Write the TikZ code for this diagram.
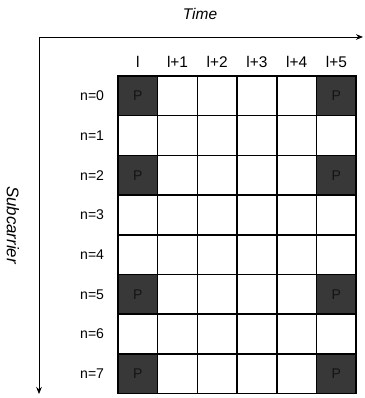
\documentclass[tikz,border=0pt]{standalone}
\usepackage{fontspec}
\setmainfont{Liberation Sans}
\usetikzlibrary{arrows.meta}

\begin{document}
\begin{tikzpicture}[x=0.025cm, y=-0.025cm, >={Stealth[length=5pt, width=4pt]},
    font=\fontsize{10}{12}\selectfont,
    cell/.style={draw, line width=1.1pt, fill=white, inner sep=0pt, minimum width=0.9925cm, minimum height=0.9925cm},
    pilot/.style={cell, fill=black!78, text=black!92},
    axis/.style={line width=0.6pt}]
    \useasboundingbox (0,0) rectangle (364,398);

    % grid of resource elements
    \foreach \r in {0,...,7}
        \foreach \c in {0,...,5}
            \node[cell] (c\r\c) at ({137.85+39.7*\c},{95.85+39.7*\r}) {};
    % pilot positions
    \foreach \r in {0,2,5,7}
        \foreach \c in {0,5}
            \node[pilot] (p\r\c) at (c\r\c) {P};

    % column and row labels
    \foreach \c/\t in {0/l,1/l+1,2/l+2,3/l+3,4/l+4,5/l+5}
        \node[font=\fontsize{11}{13}\selectfont] (col\c) at ({137.85+39.7*\c},{62}) {\t};
    \foreach \r in {0,...,7}
        \node[anchor=east] (row\r) at ({109},{95.85+39.7*\r}) {n=\r};

    % axes
    \coordinate (origin) at ({39},{37});
    \coordinate (tend) at ({363},{37});
    \coordinate (send) at ({39},{394});
    \draw[axis, ->] (origin) -- (tend);
    \draw[axis, ->] (origin) -- (send);
    \node[font=\fontsize{11}{13}\selectfont\itshape] (time) at ({200},{14}) {Time};
    \node[font=\fontsize{12}{14}\selectfont\itshape, rotate=-90] (sub) at ({13},{225}) {Subcarrier};
\end{tikzpicture}
\end{document}
